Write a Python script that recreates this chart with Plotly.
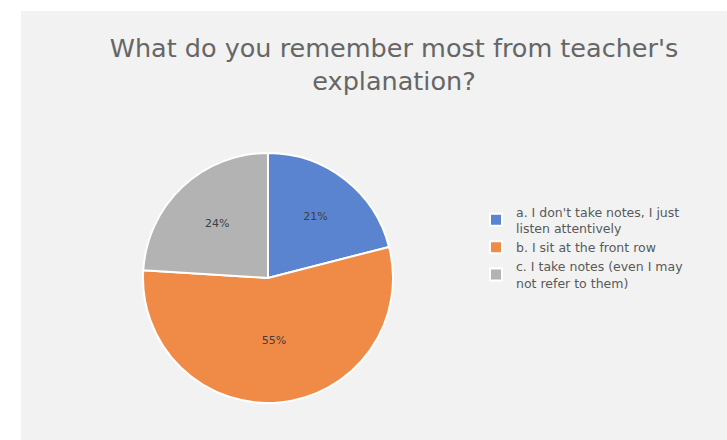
import plotly.graph_objects as go

labels = [
    "a. I don't take notes, I just<br>listen attentively",
    "b. I sit at the front row",
    "c. I take notes (even I may<br>not refer to them)",
]
values = [21, 55, 24]
colors = ["#5a84d0", "#f08a47", "#b3b3b3"]
title_text = "What do you remember most from teacher's<br>explanation?"

W, H = 727, 440
fig = go.Figure()
fig.add_trace(go.Pie(
    labels=labels, values=values, sort=False, direction="clockwise", rotation=0,
    marker=dict(colors=colors, line=dict(color="white", width=2)),
    texttemplate="%{percent:.0%}", textposition="inside",
    insidetextfont=dict(color="#404040", size=11, family="DejaVu Sans"),
    domain=dict(x=[143 / W, 393 / W], y=[1 - 403 / H, 1 - 153 / H]),
    hoverinfo="label+percent",
))
fig.update_layout(
    width=W, height=H,
    margin=dict(l=0, r=0, t=0, b=0),
    paper_bgcolor="#f2f2f2",
    title=dict(text=title_text, x=394 / W, xanchor="center", y=1 - 57 / H, yanchor="top",
               font=dict(family="DejaVu Sans", size=25.5, color="#666666")),
    legend=dict(x=476 / W, y=1 - 197 / H, xanchor="left", yanchor="top",
                font=dict(family="DejaVu Sans", size=12.5, color="#595959"),
                bgcolor="rgba(0,0,0,0)"),
    shapes=[
        dict(type="rect", xref="paper", yref="paper", x0=-0.01, x1=21 / W, y0=-0.01, y1=1.01,
             fillcolor="white", line=dict(width=0), layer="below"),
        dict(type="rect", xref="paper", yref="paper", x0=-0.01, x1=1.01, y0=1 - 11 / H, y1=1.01,
             fillcolor="white", line=dict(width=0), layer="below"),
    ],
)
fig.write_html("out.html")
